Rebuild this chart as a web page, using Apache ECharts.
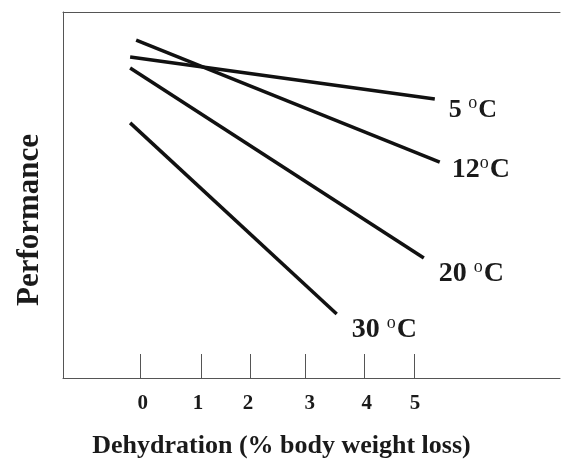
<!DOCTYPE html>
<html>
<head>
<meta charset="utf-8">
<script src="https://cdn.jsdelivr.net/npm/echarts@6/dist/echarts.min.js"></script>
<style>
html,body{margin:0;padding:0;background:#fff;}
#c{width:564px;height:471px;}
</style>
</head>
<body>
<div id="c"></div>
<script>
// Data
var seriesNames = ['5 °C', '12°C', '20 °C', '30 °C'];
var series5 = [[-0.18, 87.7], [5.38, 76.2]];
var series12 = [[-0.07, 92.3], [5.47, 59.0]];
var series20 = [[-0.18, 84.7], [5.18, 32.8]];
var series30 = [[-0.18, 69.7], [3.59, 17.5]];
var tickLabels = ['0', '1', '2', '3', '4', '5'];
var tickPositions = [0, 1.11, 2.01, 3.01, 4.10, 5.0];
var labelPositions = [0.05, 1.06, 1.97, 3.10, 4.14, 5.02];

var FONT = '"Liberation Serif", "Times New Roman", serif';
var INK = '#1a1a1a';
var AXIS = '#555';

function buildLabel(name) {
  var parts = name.split('°');
  return '{n|' + parts[0] + '}{s|o}{n|' + parts[1] + '}';
}

var labelOffsets = [[14, 11], [12, 8], [15, 16], [15, 16]];
var labelSizes = [26, 28, 28, 28];
var allData = [series5, series12, series20, series30];

var chart = echarts.init(document.getElementById('c'), null, {renderer: 'canvas'});
var xMin = -1.405, xMax = 7.665;

function nearestLabel(v) {
  var best = 0, bd = Infinity;
  for (var i = 0; i < labelPositions.length; i++) {
    var d = Math.abs(labelPositions[i] - v);
    if (d < bd) { bd = d; best = i; }
  }
  return tickLabels[best];
}

var option = {
  animation: false,
  backgroundColor: '#fff',
  grid: {left: 63, right: 4, top: 12, bottom: 93, containLabel: false, outerBoundsMode: 'none'},
  xAxis: [{
    type: 'value', min: xMin, max: xMax, position: 'bottom',
    axisLine: {show: true, onZero: false, lineStyle: {color: AXIS, width: 1}},
    axisTick: {show: true, inside: true, length: 24, customValues: tickPositions, lineStyle: {color: AXIS, width: 1}},
    axisLabel: {show: true, customValues: labelPositions, formatter: nearestLabel, margin: 15,
      fontFamily: FONT, fontWeight: 'bold', fontSize: 21, color: INK},
    splitLine: {show: false},
    name: 'Dehydration (% body weight loss)', nameLocation: 'middle', nameGap: 55,
    nameTextStyle: {fontFamily: FONT, fontWeight: 'bold', fontSize: 26, color: INK, padding: [0, 60, 0, 0]}
  }, {
    type: 'value', min: xMin, max: xMax, position: 'top',
    axisLine: {show: true, onZero: false, lineStyle: {color: AXIS, width: 1}},
    axisTick: {show: false}, axisLabel: {show: false}, splitLine: {show: false}
  }],
  yAxis: [{
    type: 'value', min: 0, max: 100,
    axisLine: {show: true, onZero: false, lineStyle: {color: AXIS, width: 1}},
    axisTick: {show: false}, axisLabel: {show: false}, splitLine: {show: false},
    name: 'Performance', nameLocation: 'middle', nameGap: 18, nameRotate: 90,
    nameTextStyle: {fontFamily: FONT, fontWeight: 'bold', fontSize: 31, color: INK, padding: [0, 50, 0, 0]}
  }],
  series: allData.map(function (d, i) {
    return {
      type: 'line', name: seriesNames[i], data: d, symbol: 'none',
      lineStyle: {color: '#111', width: 3.5},
      endLabel: {
        show: true, distance: 0, offset: labelOffsets[i], align: 'left',
        formatter: buildLabel(seriesNames[i]),
        rich: {
          n: {fontFamily: FONT, fontWeight: 'bold', fontSize: labelSizes[i], color: INK, lineHeight: 30},
          s: {fontFamily: FONT, fontSize: 18, color: INK, lineHeight: 14, padding: [0, 1, 14, 0]}
        }
      }
    };
  })
};
chart.setOption(option);
</script>
</body>
</html>
